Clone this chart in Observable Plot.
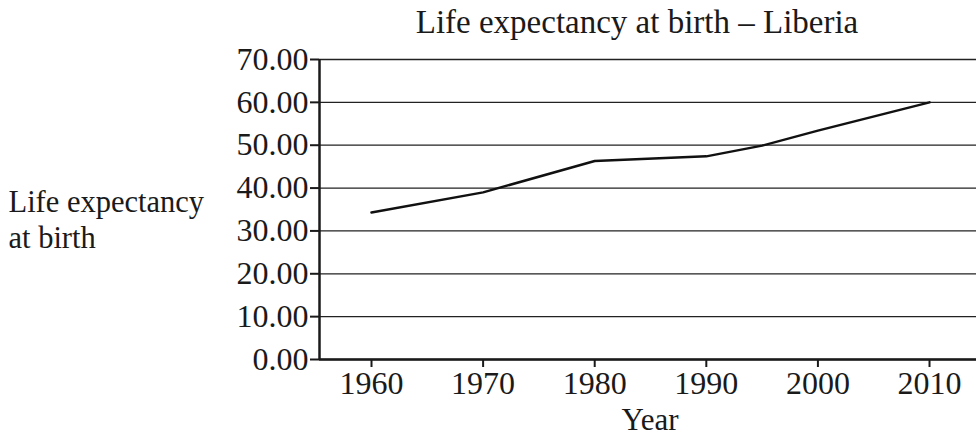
<!DOCTYPE html>
<html><head><meta charset="utf-8">
<script src="https://cdn.jsdelivr.net/npm/d3@7"></script>
<script src="https://cdn.jsdelivr.net/npm/@observablehq/plot@0.6"></script>
<style>body{margin:0;background:#fff}</style>
</head><body><div id="chart"></div>
<script>
const years = [1960, 1970, 1980, 1990, 1995, 2000, 2010];
const lifeExpectancy = [34.3, 39.0, 46.3, 47.4, 49.9, 53.4, 60.0];
const yTicks = [0, 10, 20, 30, 40, 50, 60, 70];
const xTicks = [1960, 1970, 1980, 1990, 2000, 2010];
const xDomain = [1955.34, 2014.21];
const yDomain = [0, 70];
const title = "Life expectancy at birth – Liberia";
const yLabel = "Life expectancy\nat birth";
const xLabel = "Year";

const data = years.map((year, i) => ({year, value: lifeExpectancy[i]}));
const font = "'Liberation Serif', 'Times New Roman', serif";

const chart = Plot.plot({
  width: 976, height: 437,
  marginLeft: 319, marginRight: 0, marginTop: 59, marginBottom: 78,
  style: {fontFamily: font, fontSize: "30px", color: "#1a1a1a", background: "white", overflow: "visible"},
  x: {domain: xDomain},
  y: {domain: yDomain},
  marks: [
    Plot.ruleY(yTicks, {stroke: "#222", strokeWidth: 1.3}),
    Plot.axisY({ticks: yTicks, tickFormat: d3.format(".2f"), tickSize: 9, tickPadding: 2, label: null, strokeWidth: 2, fontSize: 32}),
    Plot.axisX({ticks: xTicks, tickFormat: d => String(d), tickSize: 8, tickPadding: 4, label: null, strokeWidth: 2, fontSize: 32}),
    Plot.ruleY([yDomain[0]], {stroke: "#1a1a1a", strokeWidth: 2.5}),
    Plot.ruleX([xDomain[0]], {stroke: "#1a1a1a", strokeWidth: 2.5}),
    Plot.line(data, {x: "year", y: "value", stroke: "#111", strokeWidth: 2.5}),
    Plot.text([title], {frameAnchor: "top", lineAnchor: "bottom", dy: -27, dx: -11, fontSize: 33, fill: "#1a1a1a"}),
    Plot.text([yLabel], {frameAnchor: "left", textAnchor: "start", lineAnchor: "top", dx: -311, dy: -24, lineHeight: 1.2, fontSize: 30.5, fill: "#1a1a1a"}),
    Plot.text([xLabel], {frameAnchor: "bottom", lineAnchor: "bottom", dy: 70, dx: 2, fontSize: 31, fill: "#1a1a1a"})
  ]
});
document.getElementById("chart").append(chart);
</script>
</body></html>
